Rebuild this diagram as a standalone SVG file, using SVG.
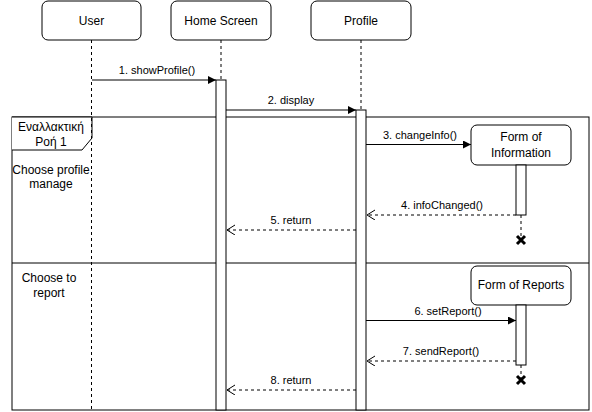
<svg xmlns="http://www.w3.org/2000/svg" width="592" height="412" viewBox="0 0 592 412">
<style>
.box{fill:#fff;stroke:#000;stroke-width:1}
.life{stroke:#000;stroke-width:1;stroke-dasharray:3 3;fill:none}
.bar{fill:#fff;stroke:#000;stroke-width:1}
.msg{stroke:#000;stroke-width:1;fill:none}
.ret{stroke:#000;stroke-width:1;fill:none;stroke-dasharray:3 3}
.t{font-family:"Liberation Sans",Arial,sans-serif;font-size:12px;fill:#000;text-anchor:middle}
.m{font-family:"Liberation Sans",Arial,sans-serif;font-size:11px;fill:#000;text-anchor:middle}
.x{stroke:#000;stroke-width:3;fill:none}
</style>
<defs>
<marker id="fill" markerWidth="10" markerHeight="10" refX="8" refY="4" orient="auto" markerUnits="userSpaceOnUse">
<path d="M0,0 L8,4 L0,8 Z" fill="#000"/>
</marker>
<marker id="open" markerWidth="12" markerHeight="12" refX="9" refY="5" orient="auto" markerUnits="userSpaceOnUse">
<path d="M1,0 L9,5 L1,10" fill="none" stroke="#000"/>
</marker>
</defs>
<rect width="592" height="412" fill="#fff"/>

<g id="frame">
<rect x="12" y="117" width="577" height="293" fill="none" stroke="#000"/>
<path d="M12,117 L92,117 L92,138 L82,150 L12,150" fill="#fff" stroke="#000"/>
<text class="t" x="51" y="131">Εναλλακτική</text>
<text class="t" x="51" y="146">Ροή 1</text>
<line x1="12" y1="263" x2="589" y2="263" stroke="#000"/>
<text class="t" x="51" y="174">Choose profile</text>
<text class="t" x="51" y="188">manage</text>
<text class="t" x="49" y="282">Choose to</text>
<text class="t" x="49" y="297">report</text>
</g>

<g id="user">
<line class="life" x1="91.5" y1="40" x2="91.5" y2="410"/>
<rect class="box" x="42" y="1" width="99" height="39" rx="6"/>
<text class="t" x="91.5" y="24.5">User</text>
</g>

<g id="home">
<line class="life" x1="221" y1="40" x2="221" y2="80"/>
<rect class="box" x="171" y="1" width="100" height="39" rx="6"/>
<text class="t" x="221" y="24.5">Home Screen</text>
<rect class="bar" x="216" y="80" width="10" height="330"/>
</g>

<g id="profile">
<line class="life" x1="361" y1="40" x2="361" y2="110"/>
<rect class="box" x="311" y="1" width="100" height="39" rx="6"/>
<text class="t" x="361" y="24.5">Profile</text>
<rect class="bar" x="356" y="110" width="10" height="300"/>
</g>

<g id="forminfo">
<line class="life" x1="521" y1="215" x2="521" y2="238"/>
<rect class="box" x="471" y="125" width="100" height="40" rx="6"/>
<text class="t" x="521" y="141">Form of</text>
<text class="t" x="521" y="157">Information</text>
<rect class="bar" x="516" y="165" width="10" height="50"/>
<path class="x" d="M517,236 L525,244 M525,236 L517,244"/>
</g>

<g id="formreports">
<line class="life" x1="521" y1="365" x2="521" y2="378"/>
<rect class="box" x="471" y="266" width="100" height="39" rx="6"/>
<text class="t" x="521" y="289">Form of Reports</text>
<rect class="bar" x="516" y="305" width="10" height="60"/>
<path class="x" d="M517,376 L525,384 M525,376 L517,384"/>
</g>

<g id="connectors">
<line class="msg" x1="92" y1="80" x2="216" y2="80" marker-end="url(#fill)"/>
<text class="m" x="157" y="74">1. showProfile()</text>
<line class="msg" x1="226" y1="110" x2="356" y2="110" marker-end="url(#fill)"/>
<text class="m" x="291" y="104">2. display</text>
<line class="msg" x1="366" y1="144.5" x2="471" y2="144.5" marker-end="url(#fill)"/>
<text class="m" x="420" y="139">3. changeInfo()</text>
<line class="ret" x1="516" y1="215" x2="367" y2="215" marker-end="url(#open)"/>
<text class="m" x="442" y="209">4. infoChanged()</text>
<line class="ret" x1="356" y1="230" x2="227" y2="230" marker-end="url(#open)"/>
<text class="m" x="291" y="224">5. return</text>
<line class="msg" x1="366" y1="320.5" x2="516" y2="320.5" marker-end="url(#fill)"/>
<text class="m" x="448" y="315">6. setReport()</text>
<line class="ret" x1="516" y1="361" x2="367" y2="361" marker-end="url(#open)"/>
<text class="m" x="441" y="355">7. sendReport()</text>
<line class="ret" x1="356" y1="390" x2="227" y2="390" marker-end="url(#open)"/>
<text class="m" x="291" y="384">8. return</text>
</g>
</svg>
